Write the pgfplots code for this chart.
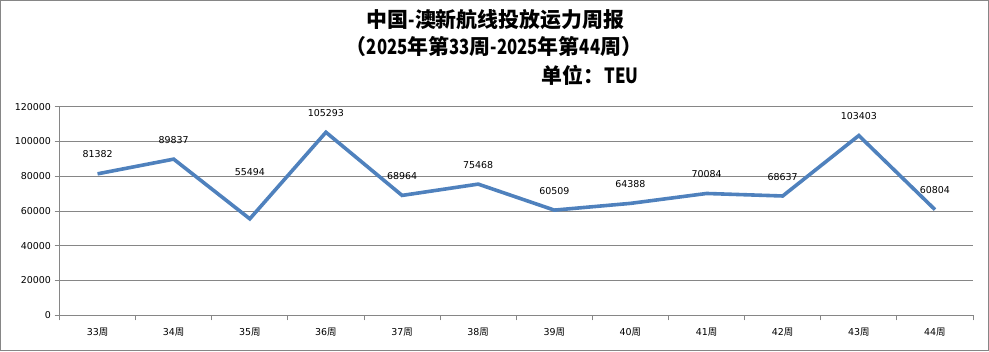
\documentclass[border=0pt]{standalone}
\usepackage{pgfplots}
\usepackage{pgfplotstable}
\pgfplotsset{compat=1.18}
\usepackage{fontspec}
\setmainfont{DejaVu Sans}
\newfontfamily\cjk{Noto Sans CJK SC}
\newfontfamily\cjkn[FakeStretch=0.8]{Noto Sans CJK SC}
\definecolor{linecol}{RGB}{79,129,189}
\definecolor{gridcol}{RGB}{134,134,134}

\pgfplotstableread{
x y dy lab
0 81382 16 81382
1 89837 16 89837
2 55494 43 55494
3 105293 16 105293
4 68964 16 68964
5 75468 16 75468
6 60509 16 60509
7 64388 16 64388
8 70084 16 70084
9 68637 16 68637
10 103403 16 103403
11 60804 16 60804
}\datatable

\begin{document}
\begin{tikzpicture}[x=1bp,y=1bp]
\draw[gridcol, line width=1bp] (0.5,0.5) rectangle (988.5,350.5);
\begin{axis}[
  at={(59.5bp,35.7bp)}, anchor=south west,
  scale only axis, width=913.5bp, height=208.6bp,
  xmin=-0.5, xmax=11.5, ymin=0, ymax=120000,
  axis x line*=bottom, axis y line*=left,
  axis line style={gridcol, line width=0.8bp},
  tick style={gridcol, line width=0.8bp},
  tick align=outside, major tick length=5bp,
  ytick={0,20000,40000,60000,80000,100000,120000},
  scaled y ticks=false,
  yticklabel style={/pgf/number format/.cd, fixed, precision=0, set thousands separator={}, assume math mode=true},
  ymajorgrids, grid style={gridcol, line width=0.8bp},
  xtick={-0.5,0.5,...,11.5}, xticklabels={,,,,,,,,,,,,,},
  extra x ticks={0,1,2,3,4,5,6,7,8,9,10,11},
  extra x tick labels={33{\cjk 周},34{\cjk 周},35{\cjk 周},36{\cjk 周},37{\cjk 周},38{\cjk 周},39{\cjk 周},40{\cjk 周},41{\cjk 周},42{\cjk 周},43{\cjk 周},44{\cjk 周}},
  extra x tick style={major tick length=0pt, xticklabel style={yshift=-9bp}},
  ticklabel style={font=\fontsize{9.5}{11}\selectfont, text=black},
  clip=false,
]
\addplot[linecol, line width=3.6bp, mark=none,
  nodes near coords, point meta=explicit symbolic,
  visualization depends on={\thisrow{dy}\as\dy},
  every node near coord/.append style={anchor=base, yshift=\dy, inner sep=0pt, text=black, font=\fontsize{9.5}{11}\selectfont}]
  table[x=x, y=y, meta=lab]{\datatable};
\end{axis}
\node[font=\cjk\bfseries\fontsize{21}{24}\selectfont] at (495.5,331) {中国{\cjkn -}澳新航线投放运力周报};
\node[font=\cjk\bfseries\fontsize{21}{24}\selectfont] at (494,304) {（{\cjkn 2025}年第{\cjkn 33}周{\cjkn -2025}年第{\cjkn 44}周）};
\node[font=\cjk\bfseries\fontsize{21}{24}\selectfont, anchor=east] at (642,276) {单位：{\cjkn TEU}};
\end{tikzpicture}
\end{document}
